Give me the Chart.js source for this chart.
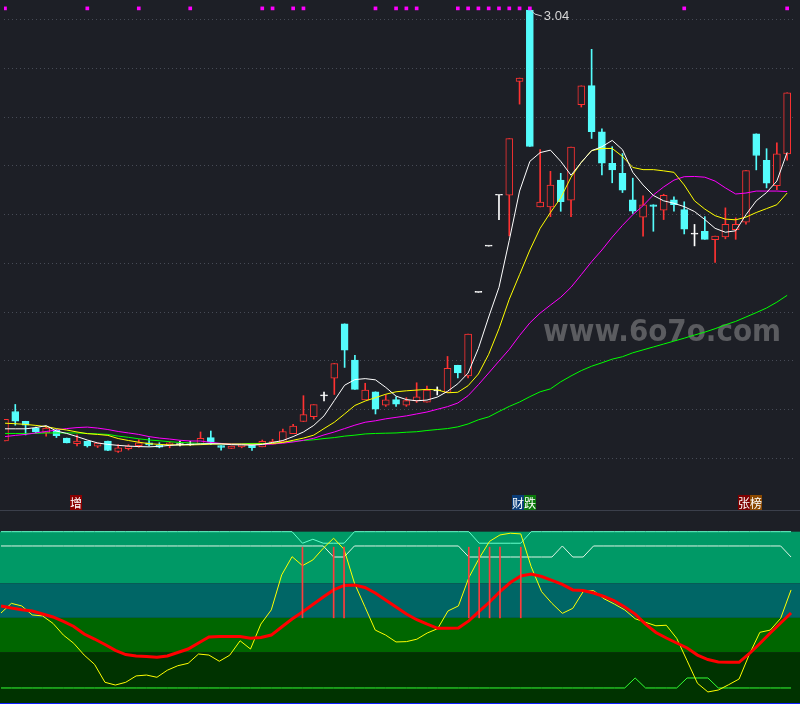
<!DOCTYPE html>
<html>
<head>
<meta charset="utf-8">
<script src="https://cdn.jsdelivr.net/npm/chart.js@4.4.1/dist/chart.umd.min.js"></script>
<style>
    html, body { margin: 0; padding: 0; background: #1d1f26; }
    #wrap { position: relative; width: 800px; height: 704px; overflow: hidden; }
    canvas { position: absolute; left: 0; display: block; }
</style>
</head>
<body>
<div id="wrap">
    <canvas id="kline" width="800" height="511" style="top:0"></canvas>
    <canvas id="ind" width="800" height="193" style="top:511px"></canvas>
</div>
<script>
// Daily candles (price)
const openP = [
    1.271, 1.392, 1.352, 1.324, 1.304, 1.316, 1.283, 1.260, 1.270, 1.250,
    1.271, 1.228, 1.239, 1.252, 1.263, 1.254, 1.254, 1.256, 1.255, 1.259,
    1.285, 1.252, 1.240, 1.247, 1.254, 1.247, 1.258, 1.267, 1.301, 1.351,
    1.371, 1.456, 1.529, 1.752, 1.603, 1.440, 1.473, 1.418, 1.441, 1.418,
    1.436, 1.430, 1.477, 1.470, 1.582, 1.538, 1.881, 2.071, 2.280, 2.280,
    2.747, 3.040, 2.232, 2.232, 2.342, 2.260, 2.652, 2.730, 2.540, 2.411,
    2.370, 2.261, 2.190, 2.241, 2.219, 2.261, 2.221, 2.120, 2.132, 2.098,
    2.109, 2.139, 2.169, 2.532, 2.423, 2.319, 2.450
];
const highP = [
    1.360, 1.421, 1.352, 1.328, 1.328, 1.320, 1.283, 1.296, 1.271, 1.263,
    1.271, 1.256, 1.256, 1.277, 1.283, 1.264, 1.267, 1.271, 1.270, 1.308,
    1.312, 1.252, 1.250, 1.258, 1.257, 1.275, 1.278, 1.320, 1.339, 1.457,
    1.420, 1.472, 1.589, 1.752, 1.623, 1.508, 1.473, 1.460, 1.452, 1.449,
    1.510, 1.496, 1.493, 1.618, 1.582, 1.710, 1.881, 2.071, 2.280, 2.512,
    2.761, 3.040, 2.467, 2.378, 2.370, 2.478, 2.729, 2.879, 2.553, 2.479,
    2.451, 2.350, 2.277, 2.241, 2.284, 2.273, 2.253, 2.160, 2.192, 2.112,
    2.228, 2.187, 2.381, 2.532, 2.471, 2.495, 2.700
];
const lowP = [
    1.271, 1.336, 1.296, 1.304, 1.291, 1.285, 1.263, 1.251, 1.246, 1.244,
    1.231, 1.224, 1.234, 1.245, 1.251, 1.243, 1.243, 1.251, 1.253, 1.256,
    1.256, 1.233, 1.240, 1.243, 1.232, 1.247, 1.258, 1.267, 1.301, 1.351,
    1.361, 1.436, 1.462, 1.573, 1.483, 1.440, 1.382, 1.413, 1.413, 1.413,
    1.429, 1.430, 1.460, 1.470, 1.530, 1.530, 1.881, 2.071, 2.180, 2.113,
    2.654, 2.480, 2.232, 2.192, 2.214, 2.192, 2.642, 2.513, 2.363, 2.331,
    2.291, 2.205, 2.112, 2.132, 2.180, 2.214, 2.121, 2.072, 2.099, 2.004,
    2.101, 2.099, 2.161, 2.384, 2.310, 2.303, 2.424
];
const closeP = [
    1.360, 1.352, 1.336, 1.308, 1.324, 1.293, 1.263, 1.271, 1.251, 1.262,
    1.232, 1.243, 1.250, 1.263, 1.255, 1.246, 1.263, 1.256, 1.255, 1.282,
    1.267, 1.245, 1.250, 1.258, 1.244, 1.270, 1.269, 1.310, 1.332, 1.379,
    1.420, 1.456, 1.589, 1.644, 1.483, 1.480, 1.402, 1.440, 1.422, 1.437,
    1.452, 1.480, 1.477, 1.569, 1.550, 1.710, 1.881, 2.071, 2.280, 2.512,
    2.761, 2.480, 2.252, 2.322, 2.254, 2.478, 2.729, 2.541, 2.412, 2.384,
    2.301, 2.214, 2.241, 2.234, 2.280, 2.241, 2.141, 2.120, 2.099, 2.112,
    2.160, 2.160, 2.381, 2.443, 2.329, 2.450, 2.700
];

// Moving averages
const ma5 = [
    1.321, 1.321, 1.321, 1.326, 1.334, 1.312, 1.302, 1.289, 1.275, 1.263,
    1.257, 1.253, 1.250, 1.248, 1.247, 1.249, 1.253, 1.255, 1.257, 1.259,
    1.260, 1.259, 1.256, 1.255, 1.254, 1.257, 1.265, 1.273, 1.289, 1.308,
    1.335, 1.374, 1.437, 1.500, 1.523, 1.527, 1.522, 1.491, 1.455, 1.441,
    1.436, 1.439, 1.451, 1.475, 1.506, 1.550, 1.651, 1.780, 1.902, 2.095,
    2.297, 2.419, 2.455, 2.465, 2.419, 2.362, 2.415, 2.463, 2.479, 2.505,
    2.467, 2.374, 2.322, 2.279, 2.257, 2.247, 2.233, 2.213, 2.180, 2.144,
    2.128, 2.134, 2.200, 2.257, 2.291, 2.338, 2.456
];
const ma10 = [
    1.344, 1.342, 1.339, 1.335, 1.330, 1.322, 1.316, 1.308, 1.301, 1.298,
    1.294, 1.281, 1.273, 1.266, 1.260, 1.257, 1.255, 1.255, 1.255, 1.256,
    1.258, 1.259, 1.258, 1.258, 1.258, 1.259, 1.261, 1.265, 1.274, 1.283,
    1.295, 1.322, 1.348, 1.382, 1.417, 1.435, 1.449, 1.463, 1.473, 1.477,
    1.480, 1.483, 1.481, 1.469, 1.471, 1.498, 1.546, 1.627, 1.732, 1.853,
    1.954, 2.055, 2.144, 2.209, 2.269, 2.354, 2.415, 2.463, 2.472, 2.472,
    2.439, 2.394, 2.385, 2.385, 2.380, 2.374, 2.322, 2.257, 2.223, 2.196,
    2.182, 2.179, 2.190, 2.209, 2.225, 2.241, 2.289
];
const ma20 = [
    1.289, 1.294, 1.298, 1.304, 1.310, 1.316, 1.322, 1.326, 1.328, 1.324,
    1.318, 1.310, 1.304, 1.298, 1.289, 1.283, 1.279, 1.274, 1.271, 1.271,
    1.265, 1.261, 1.259, 1.258, 1.256, 1.256, 1.259, 1.262, 1.267, 1.274,
    1.282, 1.296, 1.308, 1.322, 1.336, 1.348, 1.354, 1.362, 1.368, 1.374,
    1.382, 1.390, 1.401, 1.412, 1.427, 1.457, 1.502, 1.550, 1.599, 1.647,
    1.704, 1.756, 1.796, 1.829, 1.861, 1.902, 1.954, 2.007, 2.055, 2.108,
    2.156, 2.200, 2.237, 2.281, 2.314, 2.342, 2.356, 2.357, 2.354, 2.338,
    2.310, 2.285, 2.289, 2.297, 2.297, 2.297, 2.295
];
const ma60 = [
    1.302, 1.302, 1.302, 1.302, 1.304, 1.304, 1.304, 1.304, 1.302, 1.300,
    1.298, 1.291, 1.286, 1.280, 1.275, 1.272, 1.268, 1.265, 1.263, 1.261,
    1.260, 1.260, 1.260, 1.260, 1.261, 1.261, 1.262, 1.265, 1.270, 1.273,
    1.276, 1.281, 1.285, 1.291, 1.295, 1.300, 1.302, 1.303, 1.304, 1.307,
    1.309, 1.314, 1.318, 1.322, 1.329, 1.341, 1.358, 1.370, 1.392, 1.413,
    1.431, 1.453, 1.473, 1.485, 1.514, 1.538, 1.560, 1.578, 1.592, 1.607,
    1.617, 1.633, 1.645, 1.657, 1.669, 1.681, 1.693, 1.706, 1.718, 1.732,
    1.748, 1.762, 1.780, 1.798, 1.817, 1.841, 1.869
];

// Signals on the price panel
const markIdx = [0, 8, 13, 18, 25, 26, 28, 29, 36, 38, 39, 40, 44, 45, 46, 47, 48, 49, 50, 51, 66, 76];
const MARK_LEVEL = 3.047;
const tagIdx = [7, 50, 72];
const tagText = ['增', '财跌', '张榜'];

// Indicator panel (0..100)
const indMain = [
    56.9, 55.7, 54.7, 54.0, 52.2, 50.5, 47.9, 45.0, 40.6, 37.7,
    34.5, 31.1, 28.7, 27.9, 27.5, 27.1, 27.9, 29.9, 31.9, 35.4,
    38.9, 39.1, 39.1, 39.1, 38.1, 38.6, 40.0, 44.7, 49.3, 53.4,
    57.7, 62.1, 66.2, 68.8, 69.1, 67.6, 64.4, 60.4, 56.3, 52.2,
    48.9, 46.3, 43.9, 43.9, 44.1, 48.2, 53.7, 59.2, 65.2, 70.5,
    74.3, 75.4, 74.0, 71.7, 69.4, 66.2, 65.9, 64.4, 62.4, 59.8,
    56.3, 52.2, 46.4, 41.5, 38.3, 35.4, 32.5, 28.4, 25.8, 24.4,
    24.2, 24.2, 29.3, 35.1, 41.2, 47.0, 52.8
];
const indFast = [
    52.8, 58.4, 56.9, 51.7, 51.1, 46.8, 40.0, 35.2, 28.4, 23.0,
    12.6, 11.0, 12.6, 16.3, 16.8, 15.5, 19.6, 22.2, 23.6, 29.0,
    28.4, 24.8, 28.3, 36.7, 31.9, 46.4, 54.6, 74.9, 85.5, 80.3,
    83.6, 90.4, 96.2, 89.8, 70.1, 56.5, 42.9, 40.0, 36.0, 36.2,
    37.6, 41.2, 43.7, 54.0, 56.9, 73.3, 84.6, 94.4, 98.1, 99.1,
    98.7, 79.7, 65.2, 58.4, 52.6, 55.5, 65.2, 65.8, 61.1, 58.0,
    54.6, 49.5, 47.4, 45.4, 45.7, 38.1, 25.1, 12.0, 7.0, 8.1,
    11.2, 14.5, 29.0, 41.6, 42.9, 49.7, 66.2
];
const upperLine = [
    100, 100, 100, 100, 100, 100, 100, 100, 100, 100,
    100, 100, 100, 100, 100, 100, 100, 100, 100, 100,
    100, 100, 100, 100, 100, 100, 100, 100, 100, 93.3,
    95.6, 93.3, 93.3, 93.3, 100, 100, 100, 100, 100, 100,
    100, 100, 100, 100, 100, 100, 93.3, 93.3, 93.3, 93.3,
    93.3, 100, 100, 100, 100, 100, 100, 100, 100, 100,
    100, 100, 100, 100, 100, 100, 100, 100, 100, 100,
    100, 100, 100, 100, 100, 100, 100
];
const midLine = [
    91.7, 91.7, 91.7, 91.7, 91.7, 91.7, 91.7, 91.7, 91.7, 91.7,
    91.7, 91.7, 91.7, 91.7, 91.7, 91.7, 91.7, 91.7, 91.7, 91.7,
    91.7, 91.7, 91.7, 91.7, 91.7, 91.7, 91.7, 91.7, 91.7, 91.7,
    91.7, 91.7, 85.3, 85.3, 91.7, 91.7, 91.7, 91.7, 91.7, 91.7,
    91.7, 91.7, 91.7, 91.7, 91.7, 85.3, 85.3, 85.3, 85.3, 85.3,
    85.3, 85.3, 85.3, 85.3, 91.7, 85.3, 85.3, 91.7, 91.7, 91.7,
    91.7, 91.7, 91.7, 91.7, 91.7, 91.7, 91.7, 91.7, 91.7, 91.7,
    91.7, 91.7, 91.7, 91.7, 91.7, 91.7, 85.3
];
const lowerLine = [
    9.3, 9.3, 9.3, 9.3, 9.3, 9.3, 9.3, 9.3, 9.3, 9.3,
    9.3, 9.3, 9.3, 9.3, 9.3, 9.3, 9.3, 9.3, 9.3, 9.3,
    9.3, 9.3, 9.3, 9.3, 9.3, 9.3, 9.3, 9.3, 9.3, 9.3,
    9.3, 9.3, 9.3, 9.3, 9.3, 9.3, 9.3, 9.3, 9.3, 9.3,
    9.3, 9.3, 9.3, 9.3, 9.3, 9.3, 9.3, 9.3, 9.3, 9.3,
    9.3, 9.3, 9.3, 9.3, 9.3, 9.3, 9.3, 9.3, 9.3, 9.3,
    9.3, 15.1, 9.3, 9.3, 9.3, 9.3, 15.1, 15.1, 15.1, 9.3,
    9.3, 9.3, 9.3, 9.3, 9.3, 9.3, 9.3
];
const signalIdx = [29, 32, 33, 45, 46, 47, 48, 50];
const SIGNAL_RANGE = [50, 91];
const bandLevels = [100, 70, 50, 30, 0];

// Colours
const BG = '#1d1f26';
const UP = '#ff3232';
const DOWN = '#54fcfc';
const FLAT = '#ffffff';
const BAND_COLORS = ['#009966', '#006666', '#006600', '#003300'];
const TAG_COLORS = { '增': '#8a0000', '财': '#0b3d78', '跌': '#0a780a', '张': '#7d0000', '榜': '#8a4800' };

const idx = openP.map((_, i) => i);
const candleColor = idx.map(i => closeP[i] > openP[i] ? UP : (closeP[i] < openP[i] ? DOWN : FLAT));
const bodyFill = idx.map(i => closeP[i] > openP[i] ? BG : candleColor[i]);

const xAxis = { type: 'linear', display: false, min: -0.096, max: 76.86, offset: false };

function toXY(arr) {
    return arr.map((v, i) => ({ x: i, y: v }));
}

function lineSet(data, color, width, order) {
    return {
        type: 'line',
        data: toXY(data),
        borderColor: color,
        borderWidth: width,
        pointRadius: 0,
        tension: 0,
        order: order
    };
}

// Background fill
const bgPlugin = {
    id: 'bgFill',
    beforeDraw(chart) {
        const c = chart.ctx;
        c.save();
        c.fillStyle = BG;
        c.fillRect(0, 0, chart.width, chart.height);
        c.restore();
    }
};

// Watermark, high label, tags, separator on the price panel
const pricePlugin = {
    id: 'priceDeco',
    beforeDatasetsDraw(chart) {
        const c = chart.ctx;
        c.save();
        c.font = 'bold 30px "DejaVu Sans"';
        const w = c.measureText('www.6o7o.com').width;
        c.translate(543, 341);
        c.scale(238 / w, 1);
        c.fillStyle = '#5b5c60';
        c.textBaseline = 'alphabetic';
        c.fillText('www.6o7o.com', 0, 0);
        c.restore();
    },
    afterDatasetsDraw(chart) {
        const c = chart.ctx;
        const xs = chart.scales.x;
        const ys = chart.scales.y;

        // highest price
        let hi = 0;
        highP.forEach((v, i) => { if (v > highP[hi]) hi = i; });
        const px = xs.getPixelForValue(hi);
        const py = ys.getPixelForValue(highP[hi]);
        c.save();
        c.strokeStyle = '#d0d0d0';
        c.lineWidth = 1;
        c.beginPath();
        c.moveTo(px + 1, py);
        c.lineTo(px + 5, py + 4);
        c.lineTo(px + 12, py + 6);
        c.stroke();
        c.fillStyle = '#d8d8d8';
        c.font = '13px "Liberation Sans"';
        c.textBaseline = 'middle';
        c.fillText(highP[hi].toFixed(2), px + 14, py + 6.5);

        // tags under the candles
        c.font = '12px "Noto Sans CJK SC"';
        c.textAlign = 'center';
        tagIdx.forEach((ti, k) => {
            let left = Math.round(xs.getPixelForValue(ti) - 7.5);
            for (const ch of tagText[k]) {
                c.fillStyle = TAG_COLORS[ch];
                c.fillRect(left, 495, 12, 15);
                c.fillStyle = '#ffffff';
                c.fillText(ch, left + 6, 503);
                left += 12;
            }
        });

        // panel separator
        c.fillStyle = '#3b3f4b';
        c.fillRect(0, chart.height - 1, chart.width, 1);
        c.restore();
    }
};

// Colour bands of the indicator panel
const bandPlugin = {
    id: 'bands',
    beforeDatasetsDraw(chart) {
        const c = chart.ctx;
        const ys = chart.scales.y;
        const area = chart.chartArea;
        c.save();
        for (let k = 0; k < bandLevels.length - 1; k++) {
            const top = ys.getPixelForValue(bandLevels[k]);
            const bot = ys.getPixelForValue(bandLevels[k + 1]);
            c.fillStyle = BAND_COLORS[k];
            c.fillRect(area.left, top, area.right - area.left, bot - top);
        }
        c.fillStyle = '#1020ff';
        c.fillRect(area.left, area.bottom - 1, area.right - area.left, 1);
        c.restore();
    }
};

const commonOptions = {
    responsive: false,
    animation: false,
    events: [],
    layout: { padding: 0 },
    plugins: { legend: { display: false }, tooltip: { enabled: false } }
};

// Price panel
new Chart(document.getElementById('kline'), {
    type: 'bar',
    data: {
        datasets: [
            {
                type: 'bar',
                data: idx.map(i => ({ x: i, y: [lowP[i], highP[i]] })),
                backgroundColor: candleColor,
                borderWidth: 0,
                barThickness: 1,
                grouped: false,
                order: 8
            },
            {
                type: 'bar',
                data: idx.map(i => ({ x: i, y: [openP[i], closeP[i]] })),
                backgroundColor: bodyFill,
                borderColor: candleColor,
                borderWidth: 1,
                borderSkipped: false,
                barThickness: 7,
                minBarLength: 1,
                grouped: false,
                order: 7
            },
            lineSet(ma60, '#00ff00', 1, 6),
            lineSet(ma20, '#ff00ff', 1, 5),
            lineSet(ma10, '#ffff00', 1, 4),
            lineSet(ma5, '#ffffff', 1, 3),
            {
                type: 'line',
                data: markIdx.map(i => ({ x: i, y: MARK_LEVEL })),
                showLine: false,
                pointStyle: 'rect',
                pointRadius: 2.6,
                pointBorderWidth: 0,
                pointBackgroundColor: '#ff00ff',
                order: 1
            }
        ]
    },
    options: {
        ...commonOptions,
        scales: {
            x: xAxis,
            y: {
                min: 1.0,
                max: 3.065,
                afterFit: (scale) => { scale.width = 0; },
                ticks: { display: false, stepSize: 0.2 },
                grid: {
                    drawTicks: false,
                    lineWidth: 1,
                    color: (ctx) => (ctx.tick && ctx.tick.value > 1.05 && ctx.tick.value < 3.05) ? '#474b56' : 'transparent'
                },
                border: { display: false, dash: [1, 3] }
            }
        }
    },
    plugins: [bgPlugin, pricePlugin]
});

// Indicator panel
new Chart(document.getElementById('ind'), {
    type: 'bar',
    data: {
        datasets: [
            {
                type: 'bar',
                data: signalIdx.map(i => ({ x: i, y: SIGNAL_RANGE })),
                backgroundColor: '#ff3c3c',
                borderWidth: 0,
                barThickness: 1,
                grouped: false,
                order: 2
            },
            lineSet(upperLine, '#66ffcc', 1, 6),
            lineSet(midLine, '#dff5e6', 1, 5),
            lineSet(lowerLine, '#33ff33', 1, 5),
            lineSet(indFast, '#ffff00', 1, 4),
            lineSet(indMain, '#ff0000', 3, 3)
        ]
    },
    options: {
        ...commonOptions,
        scales: {
            x: xAxis,
            y: { display: false, min: 0, max: 112 }
        }
    },
    plugins: [bgPlugin, bandPlugin]
});
</script>
</body>
</html>
